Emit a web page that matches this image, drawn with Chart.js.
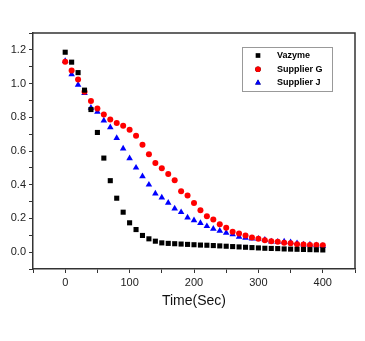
<!DOCTYPE html>
<html>
<head>
<meta charset="utf-8">
<script src="https://cdn.jsdelivr.net/npm/chart.js@4/dist/chart.umd.min.js"></script>
<style>
  html, body { margin: 0; padding: 0; background: #fff; }
  #wrap { width: 365px; height: 341px; }
</style>
</head>
<body>
<div id="wrap"><canvas id="c" width="365" height="341"></canvas></div>
<script>
// time points, every 10 s
const times = [0,10,20,30,40,50,60,70,80,90,100,110,120,130,140,150,160,170,180,190,200,
  210,220,230,240,250,260,270,280,290,300,310,320,330,340,350,360,370,380,390,400];

const vazyme = [1.186,1.127,1.065,0.961,0.846,0.71,0.558,0.424,0.32,0.237,0.174,0.134,0.099,0.079,0.065,
  0.055,0.052,0.05,0.048,0.046,0.044,0.042,0.041,0.039,0.037,0.035,0.033,0.031,0.029,0.027,0.025,
  0.023,0.022,0.021,0.019,0.018,0.017,0.016,0.015,0.014,0.013];

const supplierG = [1.13,1.077,1.024,0.951,0.896,0.852,0.817,0.787,0.766,0.75,0.726,0.69,0.637,0.58,0.529,
  0.497,0.464,0.426,0.361,0.336,0.292,0.249,0.213,0.193,0.166,0.144,0.121,0.111,0.099,0.087,0.079,
  0.071,0.065,0.061,0.055,0.053,0.047,0.045,0.043,0.043,0.041];

const supplierJ = [1.134,1.055,0.992,0.943,0.856,0.832,0.781,0.74,0.677,0.614,0.556,0.501,0.45,0.4,0.347,
  0.324,0.292,0.258,0.237,0.205,0.189,0.172,0.154,0.138,0.127,0.115,0.105,0.091,0.085,0.081,0.079,
  0.073,0.063,0.061,0.063,0.059,0.053,0.045,0.045,0.041,0.036];

const seriesNames = ["Vazyme", "Supplier G", "Supplier J"];
const xTickLabels = [0, 100, 200, 300, 400];
const yTickLabels = [0.0, 0.2, 0.4, 0.6, 0.8, 1.0, 1.2];

const pts = (ys) => times.map((t, i) => ({ x: t, y: ys[i] }));
const AX = "#333";
const FONT = "'Liberation Sans', Arial, sans-serif";

// top/right frame lines
const frame = {
  id: "frame",
  afterDraw(chart) {
    const { ctx, chartArea: a } = chart;
    ctx.save();
    ctx.strokeStyle = AX; ctx.lineWidth = 1.5;
    ctx.beginPath();
    ctx.moveTo(a.left, a.top); ctx.lineTo(a.right, a.top); ctx.lineTo(a.right, a.bottom);
    ctx.stroke();
    ctx.restore();
  }
};

// boxed legend inside the plot, top right
const boxLegend = {
  id: "boxLegend",
  afterDraw(chart) {
    const { ctx } = chart;
    const bx = 242, by = 47, bw = 90, bh = 44;
    ctx.save();
    ctx.fillStyle = "#fff"; ctx.fillRect(bx, by, bw, bh);
    ctx.strokeStyle = "#999"; ctx.lineWidth = 1;
    ctx.strokeRect(bx + 0.5, by + 0.5, bw, bh);
    ctx.font = "bold 9px " + FONT;
    ctx.textBaseline = "middle";
    chart.data.datasets.forEach((ds, i) => {
      const y = by + 8.5 + i * 13.7;
      Chart.helpers.drawPoint(ctx, {
        pointStyle: ds.pointStyle, radius: ds.pointStyle === "circle" ? 2.8 : 3.3, rotation: 0,
        borderWidth: 0
      }, bx + 16, y);
      ctx.fillStyle = ds.backgroundColor;
      ctx.fill();
      ctx.fillStyle = "#000";
      ctx.fillText(ds.label, bx + 35, y);
    });
    ctx.restore();
  }
};

new Chart(document.getElementById("c"), {
  type: "scatter",
  data: {
    datasets: [
      { label: seriesNames[0], data: pts(vazyme), pointStyle: "rect", pointRadius: 3.6,
        backgroundColor: "#000", borderColor: "#000", borderWidth: 0 },
      { label: seriesNames[1], data: pts(supplierG), pointStyle: "circle", pointRadius: 3.0,
        backgroundColor: "#ff0000", borderColor: "#ff0000", borderWidth: 0 },
      { label: seriesNames[2], data: pts(supplierJ), pointStyle: "triangle", pointRadius: 3.8,
        backgroundColor: "#0000ff", borderColor: "#0000ff", borderWidth: 0 },
    ]
  },
  options: {
    responsive: false, animation: false,
    layout: { padding: { top: 33, right: 10, bottom: 31, left: 0 } },
    plugins: { legend: { display: false }, tooltip: { enabled: false } },
    scales: {
      x: {
        type: "linear", min: -50, max: 450,
        afterFit: (s) => { s.height = 41; },
        border: { display: true, color: AX, width: 1.5 },
        grid: { display: true, drawOnChartArea: false, drawTicks: true, tickLength: 4, color: AX, tickColor: AX },
        ticks: {
          stepSize: 50, color: "#222", padding: 3, font: { family: FONT, size: 11 },
          maxRotation: 0, autoSkip: false,
          callback: (v) => (xTickLabels.includes(v) ? String(v) : "")
        },
        title: { display: true, text: "Time(Sec)", color: "#111", font: { family: FONT, size: 14 }, padding: 0 }
      },
      y: {
        type: "linear", min: -0.1, max: 1.3,
        afterFit: (s) => { s.width = 33; },
        border: { display: true, color: AX, width: 1.5 },
        grid: { display: true, drawOnChartArea: false, drawTicks: true, tickLength: 4, color: AX, tickColor: AX },
        ticks: {
          stepSize: 0.1, color: "#222", padding: 3, font: { family: FONT, size: 11 }, autoSkip: false,
          callback: (v) => {
            const hit = yTickLabels.find((t) => Math.abs(t - v) < 1e-6);
            return hit === undefined ? "" : hit.toFixed(1);
          }
        }
      }
    }
  },
  plugins: [frame, boxLegend]
});
</script>
</body>
</html>
